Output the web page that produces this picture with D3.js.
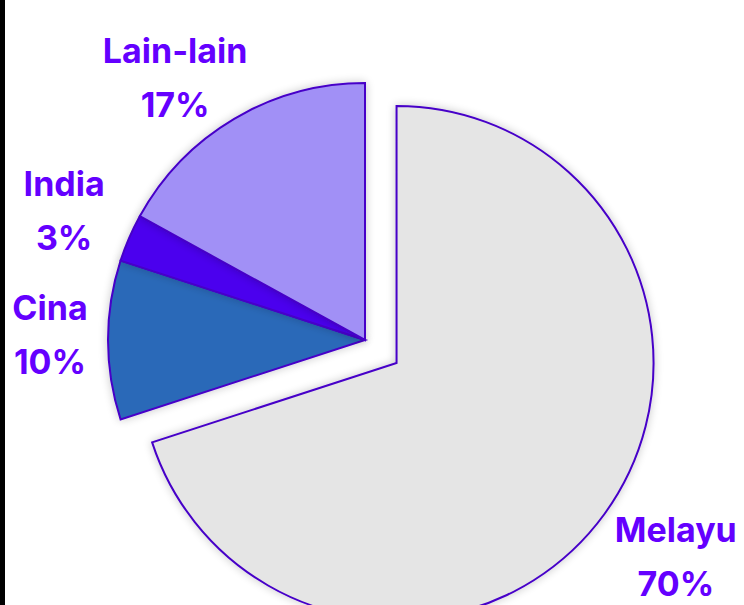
<!DOCTYPE html>
<html>
<head>
<meta charset="utf-8">
<script src="https://cdn.jsdelivr.net/npm/d3@7"></script>
<style>
  html, body { margin: 0; padding: 0; background: #fff; }
  #chart { width: 744px; height: 605px; position: relative; overflow: hidden; }
  #chart::before { content: ''; position: absolute; left: 0; top: 0; width: 5px; height: 100%; background: #000; }
</style>
</head>
<body>
<div id="chart"></div>
<script>
const LABELS  = ['Melayu', 'Cina', 'India', 'Lain-lain'];
const VALUES  = [70, 10, 3, 17];
const COLORS  = ['#e5e5e5', '#2a69b8', '#4c00ee', '#a190f6'];

const C_STROKE = '#4600c8';
const C_TEXT   = '#6400ff';
const CX = 365, CY = 340, R = 257;
const EXPLODE  = 39;
const LABEL_R  = 318;

// small hand adjustments so labels sit where the original put them
const NUDGE = { 'Melayu': [22, 19], 'Cina': [3, 7], 'India': [-9, 9], 'Lain-lain': [-28, 24] };

const data = LABELS.map((name, i) => ({ name, value: VALUES[i], color: COLORS[i] }));

const svg = d3.select('#chart').append('svg')
    .attr('width', 744)
    .attr('height', 605)
    .style('position', 'absolute').style('left', 0).style('top', 0);

const defs = svg.append('defs');
const f = defs.append('filter').attr('id', 'shadow')
    .attr('x', '-20%').attr('y', '-20%').attr('width', '140%').attr('height', '140%');
f.append('feGaussianBlur').attr('in', 'SourceAlpha').attr('stdDeviation', 5).attr('result', 'blur');
f.append('feComponentTransfer').append('feFuncA').attr('type', 'linear').attr('slope', 0.22);
const merge = f.append('feMerge');
merge.append('feMergeNode');
merge.append('feMergeNode').attr('in', 'SourceGraphic');

const pie = d3.pie().sort(null).value(d => d.value);
const arcs = pie(data);
const arc = d3.arc().innerRadius(0).outerRadius(R);
const labelArc = d3.arc().innerRadius(LABEL_R).outerRadius(LABEL_R);

const g = svg.append('g').attr('transform', `translate(${CX},${CY})`);

function offsetOf(d) {
    if (d.data.name !== 'Melayu') return [0, 0];
    const a = (d.startAngle + d.endAngle) / 2;
    return [Math.sin(a) * EXPLODE, -Math.cos(a) * EXPLODE];
}

g.selectAll('path.slice').data(arcs).enter().append('path')
    .attr('class', 'slice')
    .attr('transform', d => `translate(${offsetOf(d)})`)
    .attr('d', arc)
    .attr('fill', d => d.data.color)
    .attr('stroke', C_STROKE)
    .attr('stroke-width', 2)
    .attr('stroke-linejoin', 'miter')
    .attr('filter', 'url(#shadow)');

const lab = g.selectAll('g.label').data(arcs).enter().append('g')
    .attr('class', 'label')
    .attr('transform', d => {
        const [ox, oy] = offsetOf(d);
        const [lx, ly] = labelArc.centroid(d);
        const [nx, ny] = NUDGE[d.data.name];
        return `translate(${lx + ox + nx},${ly + oy + ny})`;
    });

lab.append('text').attr('y', -27)
    .attr('text-anchor', 'middle')
    .attr('fill', C_TEXT)
    .style('font-family', 'Inter, "DejaVu Sans", sans-serif')
    .style('font-weight', 700)
    .style('font-size', '34px')
    .text(d => d.data.name);

lab.append('text').attr('y', 27)
    .attr('text-anchor', 'middle')
    .attr('fill', C_TEXT)
    .style('font-family', 'Inter, "DejaVu Sans", sans-serif')
    .style('font-weight', 700)
    .style('font-size', '34px')
    .text(d => `${d.data.value}%`);
</script>
</body>
</html>
